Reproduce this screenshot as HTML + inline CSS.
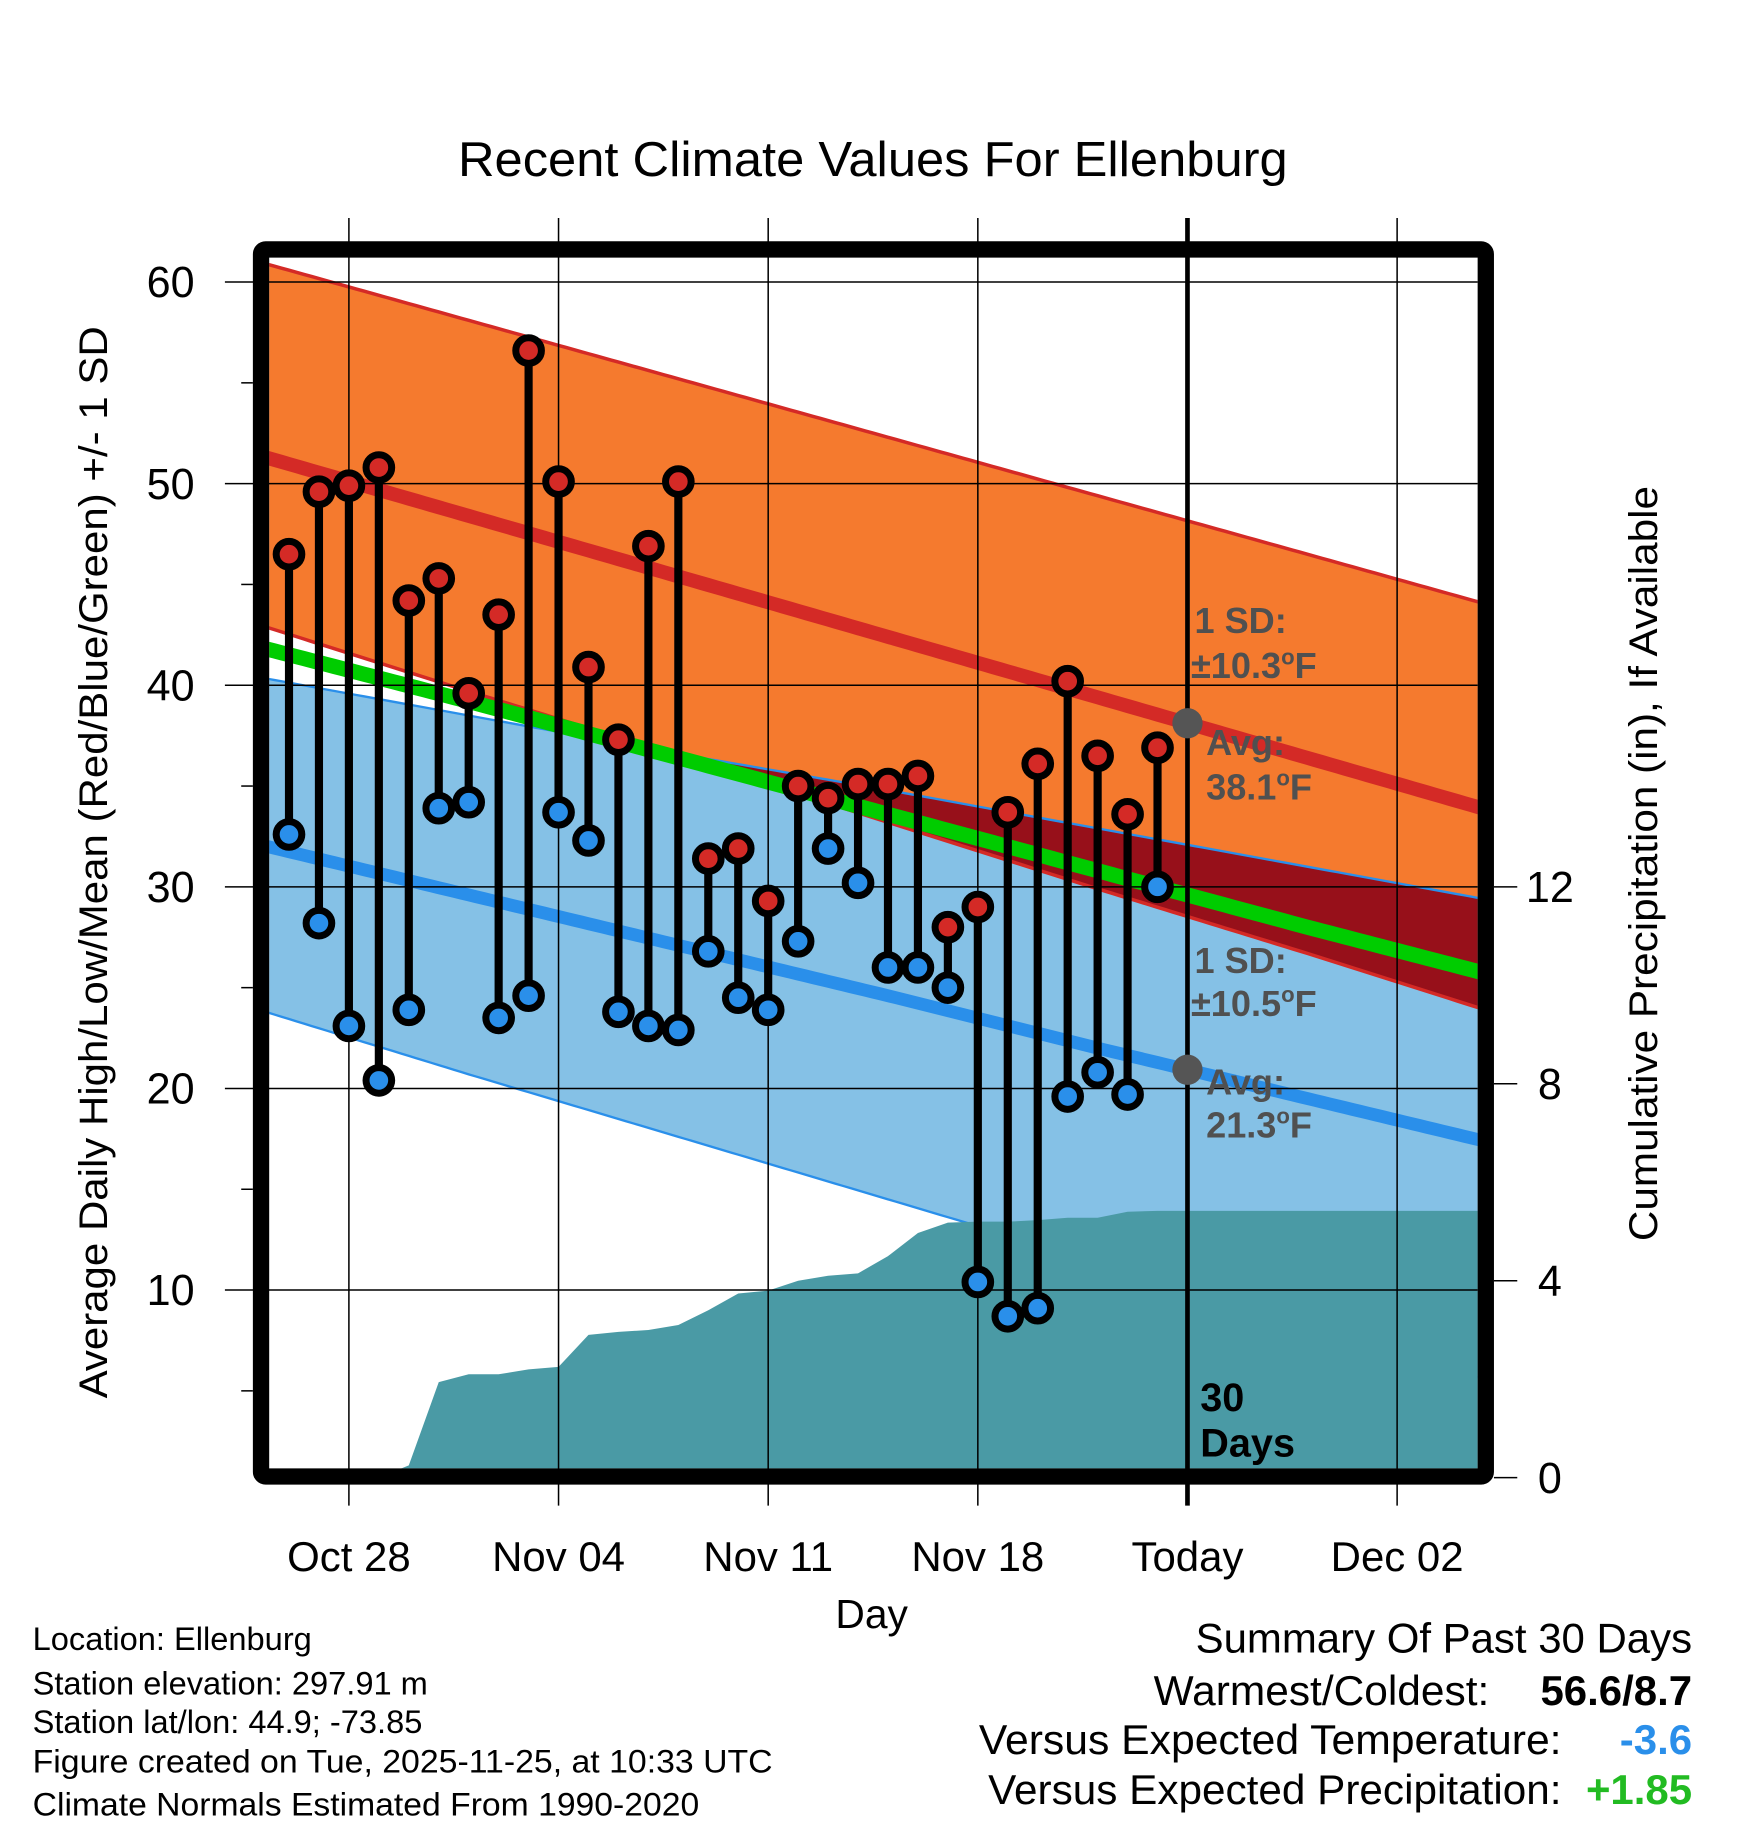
<!DOCTYPE html>
<html><head><meta charset="utf-8"><style>
html,body{margin:0;padding:0;background:#fff;}
svg{display:block;font-family:"Liberation Sans",Arial,sans-serif;}
</style></head><body>
<svg id="chart" xmlns="http://www.w3.org/2000/svg" width="1748" height="1828" viewBox="0 0 1500 1568.6">
<defs><clipPath id="plotclip"><rect x="231" y="221" width="1037" height="1039"/></clipPath></defs>
<text x="393" y="151" font-size="42" textLength="712" lengthAdjust="spacingAndGlyphs">Recent Climate Values For Ellenburg</text>
<g id="plot" clip-path="url(#plotclip)"></g>
<g id="grid"></g>
<g id="over"></g>
<rect x="224" y="214" width="1051" height="1053" fill="none" stroke="#000" stroke-width="14" rx="4"/>
<g id="marks"></g>
<g id="axes"></g>
<text transform="translate(92,1200) rotate(-90)" font-size="34" textLength="920" lengthAdjust="spacingAndGlyphs">Average Daily High/Low/Mean (Red/Blue/Green) +/- 1 SD</text>
<text transform="translate(1422,1065) rotate(-90)" font-size="34" textLength="648" lengthAdjust="spacingAndGlyphs">Cumulative Precipitation (in), If Available</text>
<text x="748" y="1397" font-size="35" text-anchor="middle">Day</text>
<g font-size="31" font-weight="bold" fill="#505050">
<text x="1025" y="543">1 SD:</text>
<text x="1022" y="582">±10.3<tspan font-size="19" dy="-12">o</tspan><tspan dy="12">F</tspan></text>
<text x="1035" y="648">Avg:</text>
<text x="1035" y="686">38.1<tspan font-size="19" dy="-12">o</tspan><tspan dy="12">F</tspan></text>
<text x="1025" y="835">1 SD:</text>
<text x="1022" y="872">±10.5<tspan font-size="19" dy="-12">o</tspan><tspan dy="12">F</tspan></text>
<text x="1035" y="939">Avg:</text>
<text x="1035" y="976">21.3<tspan font-size="19" dy="-12">o</tspan><tspan dy="12">F</tspan></text>
</g>
<g font-size="34" font-weight="bold">
<text x="1030" y="1211">30</text><text x="1030" y="1250">Days</text>
</g>
<g font-size="28">
<text x="28" y="1416">Location: Ellenburg</text>
<text x="28" y="1454">Station elevation: 297.91 m</text>
<text x="28" y="1487">Station lat/lon: 44.9; -73.85</text>
<text x="28" y="1521" textLength="635" lengthAdjust="spacingAndGlyphs">Figure created on Tue, 2025-11-25, at 10:33 UTC</text>
<text x="28" y="1558" textLength="572" lengthAdjust="spacingAndGlyphs">Climate Normals Estimated From 1990-2020</text>
</g>
<g font-size="36">
<text x="1026" y="1418" textLength="426" lengthAdjust="spacingAndGlyphs">Summary Of Past 30 Days</text>
<text x="990" y="1463" textLength="288" lengthAdjust="spacingAndGlyphs">Warmest/Coldest:</text>
<text x="1452" y="1463" text-anchor="end" font-weight="bold">56.6/8.7</text>
<text x="840" y="1505" textLength="500" lengthAdjust="spacingAndGlyphs">Versus Expected Temperature:</text>
<text x="1452" y="1505" text-anchor="end" font-weight="bold" fill="#2a8fea">-3.6</text>
<text x="848" y="1548" textLength="492" lengthAdjust="spacingAndGlyphs">Versus Expected Precipitation:</text>
<text x="1452" y="1548" text-anchor="end" font-weight="bold" fill="#22bb22">+1.85</text>
</g>
</svg>
<script>
// day index 0 = Oct 26
const highs=[46.5,49.6,49.9,50.8,44.2,45.3,39.6,43.5,56.6,50.1,40.9,37.3,46.9,50.1,31.4,31.9,29.3,35.0,34.4,35.1,35.1,35.5,28.0,29.0,33.7,36.1,40.2,36.5,33.6,36.9];
const lows=[32.6,28.2,23.1,20.4,23.9,33.9,34.2,23.5,24.6,33.7,32.3,23.8,23.1,22.9,26.8,24.5,23.9,27.3,31.9,30.2,26.0,26.0,25.0,10.4,8.7,9.1,19.6,20.8,19.7,30.0];
const precip=[0,0,0,0,0.25,1.94,2.1,2.1,2.2,2.25,2.9,2.96,3.0,3.1,3.4,3.74,3.8,4.0,4.1,4.15,4.5,4.97,5.18,5.2,5.2,5.23,5.28,5.28,5.4,5.42];
const normDays=[-1,6,13,20,27,34,41];
const normHigh=[51.4,48.4,45.4,42.4,39.4,36.4,33.4];
const normHighUp=[61.0,58.1,55.2,52.3,49.4,46.5,43.6];
const normHighLo=[43.0,39.7,36.5,33.2,29.9,26.7,23.4];
const normMean=[41.9,39.2,36.4,33.6,30.8,28.0,25.3];
const normLow=[32.1,29.6,27.1,24.6,22.0,19.5,17.0];
const normLowUp=[40.4,38.5,36.6,34.8,32.9,31.0,29.1];
const normLowLo=[23.9,20.7,17.6,14.5,11.4,8.2,5.1];
const tempTicks=[10,20,30,40,50,60];
const precipTicks=[0,4,8,12];
const xTickDays=[2,9,16,23,30,37];
const xTickLabels=["Oct 28","Nov 04","Nov 11","Nov 18","Today","Dec 02"];
const todayDay=30;

(function(){
const NS="http://www.w3.org/2000/svg";
const X=d=>248+25.7*d;
const Y=t=>242+(60-t)*17.3;
const P=p=>1268-p*42.25;
function el(tag,attrs,parent){const e=document.createElementNS(NS,tag);for(const k in attrs)e.setAttribute(k,attrs[k]);parent.appendChild(e);return e;}
function interp(arr,d){if(d<=normDays[0])return arr[0]+(arr[1]-arr[0])*(d-normDays[0])/(normDays[1]-normDays[0]);
 for(let i=0;i<normDays.length-1;i++){if(d<=normDays[i+1]){const f=(d-normDays[i])/(normDays[i+1]-normDays[i]);return arr[i]+(arr[i+1]-arr[i])*f;}}
 const n=normDays.length;return arr[n-1]+(arr[n-1]-arr[n-2])*(d-normDays[n-1])/(normDays[n-1]-normDays[n-2]);}
const samples=[];for(let d=-1.5;d<=42;d+=0.25)samples.push(d);
function band(a,b){let s=samples.map(d=>X(d)+","+Y(interp(a,d))).join(" ");s+=" "+samples.slice().reverse().map(d=>X(d)+","+Y(interp(b,d))).join(" ");return s;}
function line(a){return samples.map(d=>X(d)+","+Y(interp(a,d))).join(" ");}
const plot=document.getElementById('plot');
let e;
e=el('polygon',{points:band(normHighUp,normHighLo),fill:'#f57a2e'},plot);


e=el('polygon',{points:band(normLowUp,normLowLo),fill:'#85c1e6'},plot);


const ovTop=samples.map(d=>X(d)+","+Y(interp(normLowUp,d))).join(" ");
const ovBot=samples.slice().reverse().map(d=>{const u=interp(normLowUp,d),l=interp(normHighLo,d);return X(d)+","+Y(Math.min(u,l));}).join(" ");
e=el('polygon',{points:ovTop+" "+ovBot,fill:'#97101a'},plot);


e=el('polyline',{points:line(normHighUp),fill:'none',stroke:'#d42a26','stroke-width':3},plot);


e=el('polyline',{points:line(normHighLo),fill:'none',stroke:'#d42a26','stroke-width':3},plot);


e=el('polyline',{points:line(normLowUp),fill:'none',stroke:'#2a8fea','stroke-width':2},plot);


e=el('polyline',{points:line(normLowLo),fill:'none',stroke:'#2a8fea','stroke-width':2},plot);


e=el('polyline',{points:line(normMean),fill:'none',stroke:'#00cc00','stroke-width':13},plot);


e=el('polyline',{points:line(normHigh),fill:'none',stroke:'#d42a26','stroke-width':12},plot);


e=el('polyline',{points:line(normLow),fill:'none',stroke:'#2a8fea','stroke-width':11},plot);


let pp=[X(-2)+","+P(0)];
precip.forEach((v,i)=>pp.push(X(i)+","+P(v)));
pp.push(X(42)+","+P(precip[precip.length-1]));pp.push(X(42)+","+P(0));
e=el('polygon',{points:pp.join(" "),fill:'#4a9aa5'},plot);


const grid=document.getElementById('grid');
xTickDays.forEach((d,i)=>{if(d===todayDay)return;
 e=el('line',{x1:X(d),x2:X(d),y1:187,y2:1292,stroke:'#000','stroke-width':1.3},grid);
 
 });
tempTicks.forEach(t=>{e=el('line',{x1:193,x2:1268,y1:Y(t),y2:Y(t),stroke:'#000','stroke-width':1.3},grid);
 
 });
const over=document.getElementById('over');
e=el('line',{x1:X(todayDay),x2:X(todayDay),y1:187,y2:1292,stroke:'#000','stroke-width':4},over);


e=el('circle',{cx:X(todayDay),cy:Y(interp(normHigh,todayDay)),r:13,fill:'#555'},over);


e=el('circle',{cx:X(todayDay),cy:Y(interp(normLow,todayDay)),r:13,fill:'#555'},over);


const marks=document.getElementById('marks');
highs.forEach((h,i)=>{const l=lows[i];
 e=el('line',{x1:X(i),x2:X(i),y1:Y(h),y2:Y(l),stroke:'#000','stroke-width':7},marks);
 
 
 e=el('circle',{cx:X(i),cy:Y(h),r:11,fill:'#d42a26',stroke:'#000','stroke-width':6},marks);
 
 
 e=el('circle',{cx:X(i),cy:Y(l),r:11,fill:'#2a8fea',stroke:'#000','stroke-width':6},marks);
 
 });
const axes=document.getElementById('axes');
tempTicks.forEach(t=>{e=el('text',{x:167,y:Y(t)+13,'font-size':37,'text-anchor':'end'},axes);e.textContent=t;
 
 });
for(let t=5;t<=60;t+=10){e=el('line',{x1:207,x2:217,y1:Y(t),y2:Y(t),stroke:'#000','stroke-width':1.3},axes);
 
 }
precipTicks.forEach(p=>{e=el('line',{x1:1282,x2:1302,y1:P(p),y2:P(p),stroke:'#000','stroke-width':1.3},axes);
 
 
 e=el('text',{x:1330,y:P(p)+13,'font-size':37,'text-anchor':'middle'},axes);e.textContent=p;
 
 });
xTickDays.forEach((d,i)=>{e=el('text',{x:X(d),y:1348,'font-size':36,'text-anchor':'middle'},axes);e.textContent=xTickLabels[i];
 
 });
})();
</script>
</body></html>
